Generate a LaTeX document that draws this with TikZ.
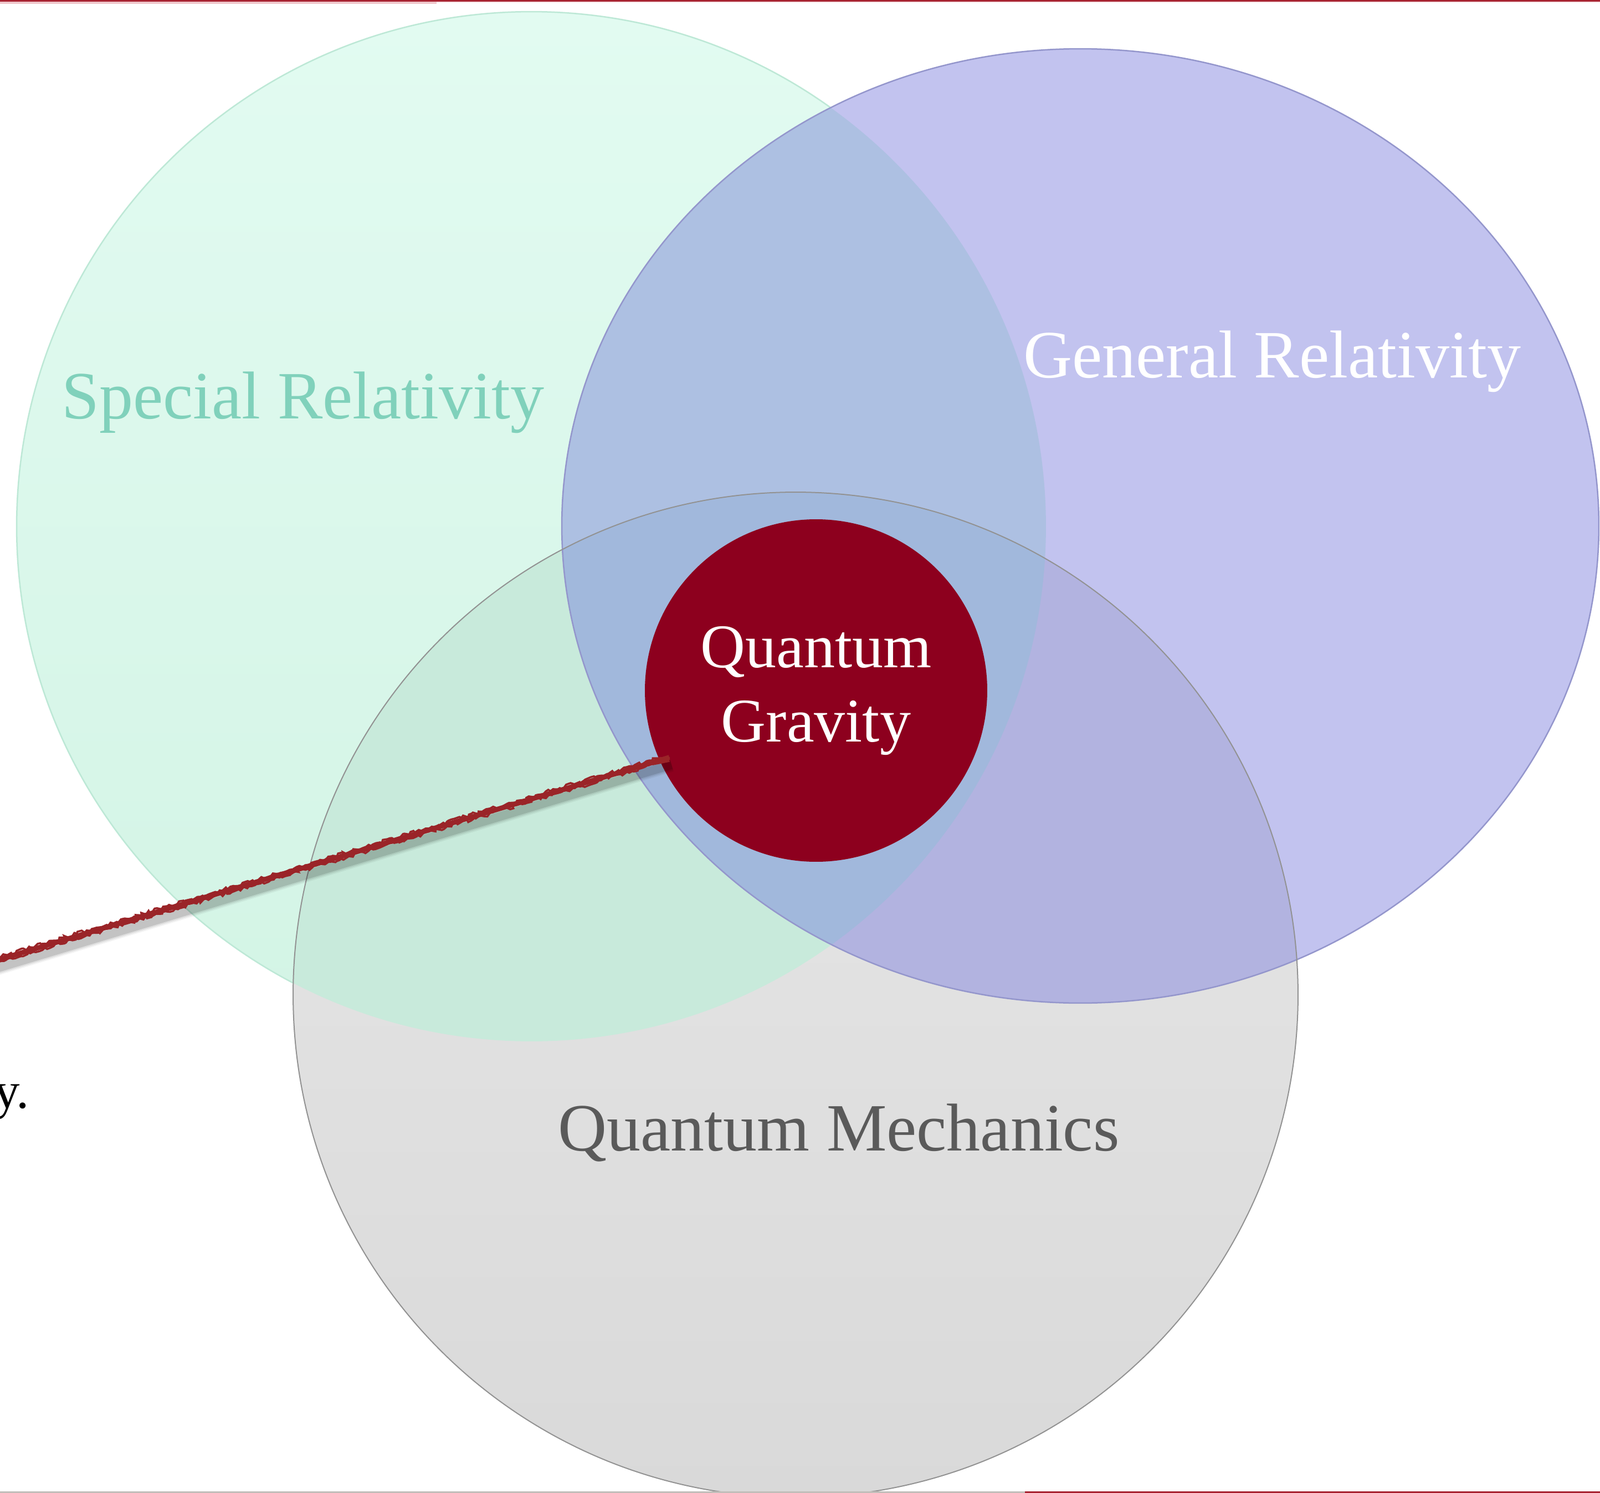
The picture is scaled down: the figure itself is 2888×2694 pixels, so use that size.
\documentclass[tikz,border=0pt]{standalone}
\usepackage{fontspec}
\setmainfont{Liberation Serif}
\usetikzlibrary{decorations.pathmorphing}
\definecolor{srtop}{HTML}{E2FBF1}
\definecolor{srbot}{HTML}{D3F4E5}
\definecolor{grfill}{HTML}{C2C3EF}
\definecolor{srgr}{HTML}{ADC0E2}
\definecolor{qmtop}{HTML}{E9E9E9}
\definecolor{qmbot}{HTML}{D9D9D9}
\definecolor{qmsr}{HTML}{C8EADB}
\definecolor{qmgr}{HTML}{B2B3E0}
\definecolor{qmall}{HTML}{A1B8DC}
\definecolor{srline}{HTML}{BDE8D6}
\definecolor{grline}{HTML}{9496CC}
\definecolor{qmline}{HTML}{929292}
\definecolor{qgred}{HTML}{8D001E}
\definecolor{srtext}{HTML}{80D1BB}
\definecolor{qmtext}{HTML}{5A5A5A}
\definecolor{linkred}{HTML}{9A2428}
\definecolor{barred}{HTML}{A82432}
\definecolor{barpink}{HTML}{EFC6CB}
\definecolor{bargray}{HTML}{C2BEBA}
\tikzset{
  srpath/.style={insert path={(959,950) circle [radius=92.9pt]}},
  grpath/.style={insert path={(1950,949) ellipse [x radius=93.6pt, y radius=86.1pt]}},
  qmpath/.style={insert path={(1436,1795) circle [radius=90.7pt]}},
  biglabel/.style={anchor=base, inner sep=0pt, font=\fontsize{12.2pt}{14.6pt}\selectfont},
  rough/.style={linkred, line width=0.35pt, decorate,
    decoration={random steps, segment length=0.5pt, amplitude=0.3pt}},
}
\begin{document}
\begin{tikzpicture}[x=0.1pt,y=-0.1pt]
\clip (0,0) rectangle (2888,2694);
\fill[white] (0,0) rectangle (2888,2694);
% fills
\shade[srpath, top color=srtop, bottom color=srbot];
\draw[srpath, srline, line width=0.25pt];
\fill[grpath, grfill];
\begin{scope}
  \clip[srpath];
  \fill[grpath, srgr];
\end{scope}
\shade[qmpath, top color=qmtop, bottom color=qmbot];
\begin{scope}
  \clip[qmpath];
  \fill[srpath, qmsr];
  \fill[grpath, qmgr];
  \clip[srpath];
  \fill[grpath, qmall];
\end{scope}
% outlines
\draw[grpath, grline, line width=0.25pt];
\draw[qmpath, qmline, line width=0.2pt];
% labels
\node[biglabel, text=srtext] (srl) at (547,755) {Special Relativity};
\node[biglabel, text=white] (grl) at (2296,681) {General Relativity};
\node[biglabel, text=qmtext] (qml) at (1514,2076) {Quantum Mechanics};
% centre
\node[circle, fill=qgred, minimum size=61.8pt, inner sep=0pt, text=white,
  align=center, font=\fontsize{11.2pt}{13.4pt}\selectfont] (qg) at (1473,1246)
  {Quantum\\Gravity};
% side text
\node[anchor=base east, inner sep=0pt, font=\fontsize{9.3pt}{11pt}\selectfont] (side) at (55,1999) {y.};
% connector
\coordinate (lstart) at (-10,1734);
\foreach \w/\o in {2.6pt/0.05,2.1pt/0.08,1.6pt/0.12}{
  \draw[black, opacity=\o, line width=\w, shorten >=-2pt]
    ([shift={(4,13)}]lstart) -- ([shift={(4,13)}]qg.204.7);
}
\draw[linkred, line width=0.9pt, shorten >=-2pt] (lstart) -- (qg.204.7);
\draw[rough, shorten >=-2pt] ([yshift=0.45pt]lstart) -- ([yshift=0.45pt]qg.204.7);
\draw[rough, shorten >=-2pt] ([yshift=-0.45pt]lstart) -- ([yshift=-0.45pt]qg.204.7);
% bars
\fill[barred] (0,0) rectangle (2888,3.5);
\fill[barpink] (0,3.5) rectangle (788,7);
\fill[barpink!50] (788,3.5) rectangle (2888,5.5);
\fill[bargray] (0,2691) rectangle (1850,2694);
\fill[barred] (1850,2691) rectangle (2888,2694);
\end{tikzpicture}
\end{document}
